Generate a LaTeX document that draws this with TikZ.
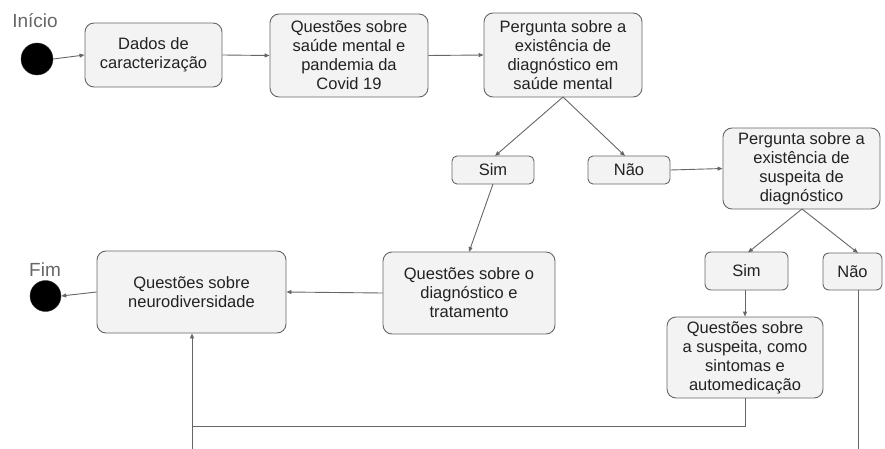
\documentclass[tikz,border=0pt]{standalone}
\usepackage{fontspec}
\setmainfont{Liberation Sans}
\usetikzlibrary{arrows.meta}
\definecolor{boxfill}{HTML}{F3F3F3}
\definecolor{edgegray}{HTML}{666666}
\definecolor{txt}{HTML}{222222}
\tikzset{
  stepbox/.style={draw=edgegray, line width=0.9pt, fill=boxfill, rounded corners=9pt,
    inner sep=0pt, align=center, text=txt, font=\fontsize{16.5}{19}\selectfont},
  dot/.style={circle, fill=black, draw=black!80, inner sep=0pt},
  lbl/.style={text=edgegray, font=\fontsize{19}{22}\selectfont, inner sep=0pt},
  conn/.style={draw=edgegray, line width=0.9pt, -{Triangle[length=5pt,width=4pt]}},
  plain/.style={draw=edgegray, line width=0.9pt}
}
\begin{document}
\begin{tikzpicture}[x=1pt,y=-1pt]
\useasboundingbox (0,0) rectangle (885,449);
% start / end
\node[dot, minimum size=32pt] (start) at (37,59) {};
\node[lbl] (inicio) at (35,21) {Início};
\node[dot, minimum size=31pt] (fim) at (45.5,296) {};
\node[lbl] (fimlbl) at (45,270) {Fim};
% boxes
\node[stepbox, minimum width=137pt, minimum height=64pt] (dados) at (153.5,55) {Dados de\\caracterização};
\node[stepbox, minimum width=158pt, minimum height=83pt] (q1) at (349,55.5) {Questões sobre\\saúde mental e\\pandemia da\\Covid 19};
\node[stepbox, minimum width=158pt, minimum height=84pt] (perg) at (563,55) {Pergunta sobre a\\existência de\\diagnóstico em\\saúde mental};
\node[stepbox, rounded corners=5pt, minimum width=82pt, minimum height=28pt] (sim) at (493,170) {Sim};
\node[stepbox, rounded corners=5pt, minimum width=82pt, minimum height=28pt] (nao) at (629,170) {Não};
\node[stepbox, minimum width=157pt, minimum height=81pt] (perg2) at (801.5,168.5) {Pergunta sobre a\\existência de\\suspeita de\\diagnóstico};
\node[stepbox, minimum width=172pt, minimum height=82pt] (diag) at (469,293) {Questões sobre o\\diagnóstico e\\tratamento};
\node[stepbox, minimum width=189pt, minimum height=82pt] (neuro) at (191.5,292) {Questões sobre\\neurodiversidade};
\node[stepbox, rounded corners=6pt, minimum width=83pt, minimum height=38pt] (sim2) at (746.5,271) {Sim};
\node[stepbox, rounded corners=6pt, minimum width=59pt, minimum height=37pt] (nao2) at (852.5,271.5) {Não};
\node[stepbox, minimum width=156pt, minimum height=81pt] (susp) at (745,357.5) {Questões sobre\\a suspeita, como\\sintomas e\\automedicação};
% helper coordinates
\coordinate (pb) at (563,97);
\coordinate (p2b) at (802,209);
\coordinate (join) at (192,426);
\coordinate (bot1) at (192,449);
\coordinate (bot2) at (858,449);
% connectors
\draw[conn] (start.east) -- (dados.west);
\draw[conn] (dados.east) -- (q1.west);
\draw[conn] (q1.east) -- (perg.west);
\draw[conn] (pb) -- (495,156);
\draw[conn] (pb) -- (625,156);
\draw[conn] (nao.east) -- (perg2.west);
\draw[conn] (493,184) -- (469,252);
\draw[conn] (diag.west) -- (neuro.east);
\draw[conn] (neuro.west) -- (fim.east);
\draw[conn] (p2b) -- (748,252.5);
\draw[conn] (p2b) -- (858,253);
\draw[conn] (sim2.south -| susp.north) -- (susp.north);
\draw[plain] (susp.south) |- (join);
\draw[conn] (bot1) -- (neuro.south -| bot1);
\draw[plain] (nao2.south -| bot2) -- (bot2);
\end{tikzpicture}
\end{document}
